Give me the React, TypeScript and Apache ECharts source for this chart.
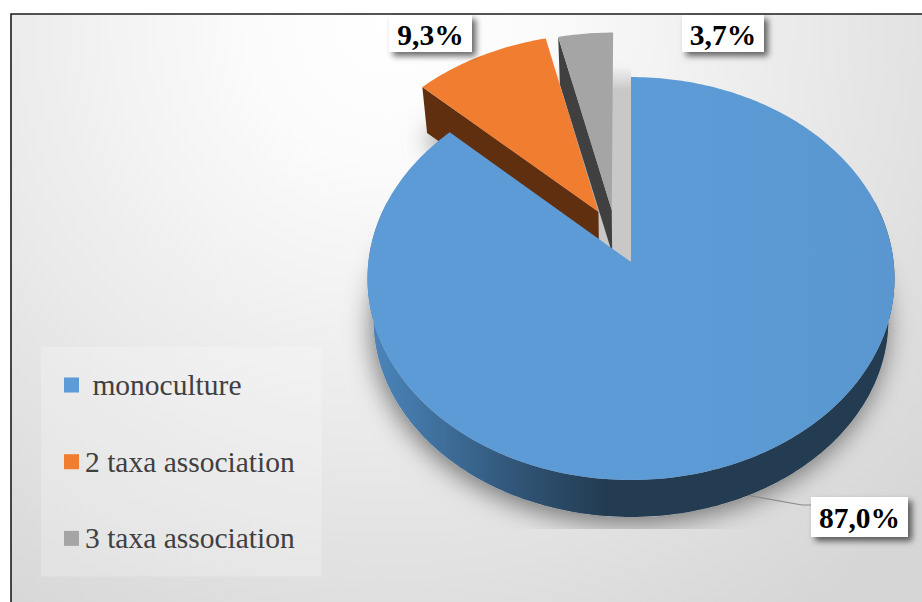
import React, { useEffect, useRef } from "react";
import * as echarts from "echarts";

const categories = ["monoculture", "2 taxa association", "3 taxa association"];
const shares = [87.0, 9.3, 3.7];

const sliceColors = ["#5c9bd6", "#f17e30", "#a5a5a5"];
const wallColors = ["#233c52", "#5f2f10", "#404040"];
const serif = "'Liberation Serif', 'Times New Roman', serif";

// Perspective model of the pie disc: (u, v) lie in the disc plane, v points to the viewer.
const HUB_X = 631;
const HUB_Y = 262;
const HALF_W = 262.6;
const HALF_H = 200.1;
const TILT = 0.0819;
const FLOOR_DROP = 42;
const FLOOR_SCALE = 0.977;
const explode: [number, number][] = [
  [0, 0],
  [-0.127, -0.257],
  [-0.075, -0.2655],
];
const labelBoxes = [
  { x: 811, y: 497, w: 97, h: 40 },
  { x: 389, y: 15, w: 83, h: 37 },
  { x: 682, y: 15, w: 82, h: 37 },
];

type Pt = [number, number];

function project(u: number, v: number, floor: boolean): Pt {
  const d = 1 - TILT * v;
  const X = (HALF_W * u) / d;
  const Y = (HALF_H * v) / d;
  return floor
    ? [HUB_X + FLOOR_SCALE * X, HUB_Y + FLOOR_DROP + FLOOR_SCALE * Y]
    : [HUB_X + X, HUB_Y + Y];
}

function rim(deg: number, off: [number, number], floor: boolean): Pt {
  const t = (deg * Math.PI) / 180;
  return project(Math.sin(t) + off[0], -Math.cos(t) + off[1], floor);
}

function arc(a: number, b: number, off: [number, number], floor: boolean): Pt[] {
  const pts: Pt[] = [];
  const n = Math.max(2, Math.ceil(Math.abs(b - a)));
  for (let i = 0; i <= n; i++) pts.push(rim(a + ((b - a) * i) / n, off, floor));
  return pts;
}

function spanOf(index: number): [number, number] {
  const total = shares.reduce((s, x) => s + x, 0);
  let start = 0;
  for (let i = 0; i < index; i++) start += (shares[i] / total) * 360;
  return [start, start + (shares[index] / total) * 360];
}

function wedge(index: number, floor: boolean): Pt[] {
  const [a, b] = spanOf(index);
  const off = explode[index];
  return [project(off[0], off[1], floor), ...arc(a, b, off, floor)];
}

function valueLabel(index: number, value: number) {
  const box = labelBoxes[index];
  return [
    {
      type: "rect",
      shape: { x: box.x, y: box.y, width: box.w, height: box.h },
      style: {
        fill: "#ffffff",
        shadowBlur: 6,
        shadowColor: "rgba(0,0,0,0.6)",
        shadowOffsetX: 4,
        shadowOffsetY: 4,
      },
    },
    {
      type: "text",
      x: box.x + box.w / 2,
      y: box.y + box.h / 2 + 1,
      style: {
        text: value.toFixed(1).replace(".", ",") + "%",
        fontFamily: serif,
        fontWeight: "bold",
        fontSize: 29.5,
        fill: "#000000",
        align: "center",
        verticalAlign: "middle",
      },
    },
  ];
}

// Pale inner face seen through the gap left by the pulled-out slices.
function innerFace() {
  const tip = project(explode[0][0], explode[0][1], false);
  return {
    type: "polygon",
    shape: {
      points: [
        [tip[0] - 32, tip[1] - 50],
        [tip[0] - 19, tip[1] - 194],
        [tip[0], tip[1] - 194],
        tip,
        [tip[0] - 32, tip[1] - 24],
      ],
    },
    style: {
      fill: new echarts.graphic.LinearGradient(
        0, tip[1] - 194, 0, tip[1] - 172,
        [
          { offset: 0, color: "#f0f0f0" },
          { offset: 1, color: "#c8c8c8" },
        ],
        true
      ),
    },
  };
}

// Blurred contact shadow under the three floor outlines, cut off along the bottom.
function renderShadow(params: any) {
  const i = params.dataIndex;
  const children: any[] = [
    {
      type: "polygon",
      shape: { points: wedge(i, true) },
      style: {
        fill: "#b0b0b0",
        shadowBlur: 26,
        shadowColor: "rgba(0,0,0,0.5)",
        shadowOffsetX: -2,
        shadowOffsetY: 6,
      },
    },
  ];
  if (i === shares.length - 1) children.push(innerFace());
  return {
    type: "group",
    clipPath: { type: "rect", shape: { x: 0, y: 15, width: 922, height: 514 } },
    children,
  };
}

function renderMonoculture(_: any, api: any) {
  const [, b] = spanOf(0);
  const off = explode[0];
  const front = arc(72, Math.min(b, 288), off, false);
  const frontFloor = arc(72, Math.min(b, 288), off, true).reverse();
  const leadStart = rim(155, off, true);
  return {
    type: "group",
    children: [
      {
        type: "polygon",
        shape: { points: [...front, ...frontFloor] },
        style: {
          fill: new echarts.graphic.LinearGradient(
            368, 0, 895, 0,
            [
              { offset: 0, color: "#4c86bd" },
              { offset: 0.12, color: "#40729f" },
              { offset: 0.3, color: "#2f5273" },
              { offset: 0.45, color: "#233c52" },
              { offset: 1, color: "#233c52" },
            ],
            true
          ),
        },
      },
      {
        type: "polygon",
        shape: { points: wedge(0, false) },
        style: {
          fill: new echarts.graphic.LinearGradient(
            368, 0, 895, 0,
            [
              { offset: 0, color: sliceColors[0] },
              { offset: 0.6, color: sliceColors[0] },
              { offset: 1, color: "#5a97d0" },
            ],
            true
          ),
        },
      },
      {
        type: "polyline",
        shape: { points: [leadStart, [802, 505], [811, 505]] },
        style: { stroke: "#8a8a8a", lineWidth: 1.2, fill: "none" },
      },
      ...valueLabel(0, api.value(0)),
    ],
  };
}

function renderPulled(index: number) {
  return (_: any, api: any) => {
    const [a] = spanOf(index);
    const off = explode[index];
    const corner = rim(a, off, false);
    const cornerFloor = rim(a, off, true);
    const tip = project(off[0], off[1], false);
    const tipFloor = project(off[0], off[1], true);
    return {
      type: "group",
      children: [
        {
          type: "polygon",
          shape: { points: [corner, tip, tipFloor, cornerFloor] },
          style: { fill: wallColors[index] },
        },
        {
          type: "polygon",
          shape: { points: wedge(index, false) },
          style: { fill: sliceColors[index] },
        },
        ...valueLabel(index, api.value(0)),
      ],
    };
  };
}

export default function App() {
  const ref = useRef<HTMLDivElement>(null);

  useEffect(() => {
    document.body.style.margin = "0";
    const chart = echarts.init(ref.current!, undefined, { renderer: "svg" });
    chart.setOption({
      animation: false,
      graphic: [
        {
          type: "rect",
          z: -10,
          shape: { x: 11, y: 14, width: 1000, height: 700 },
          style: {
            fill: new echarts.graphic.RadialGradient(
              390, 20, 720,
              [
                { offset: 0, color: "#ffffff" },
                { offset: 0.2, color: "#fbfbfb" },
                { offset: 0.55, color: "#ebebeb" },
                { offset: 1, color: "#d6d6d6" },
              ],
              true
            ),
            stroke: "#1c1c1c",
            lineWidth: 1.6,
          },
        },
      ],
      legend: {
        left: 41,
        top: 347,
        orient: "vertical",
        data: categories,
        icon: "rect",
        itemWidth: 15,
        itemHeight: 15,
        itemGap: 46.7,
        padding: [23, 27, 23, 23],
        backgroundColor: "rgba(255,255,255,0.22)",
        selectedMode: false,
        textStyle: {
          fontFamily: serif,
          fontSize: 29.5,
          color: "#404040",
          padding: [0, 0, 0, 1],
        },
        formatter: (name: string) => (name === categories[0] ? "\u00a0" + name : name),
      },
      series: [
        {
          type: "custom",
          name: "floor shadow",
          coordinateSystem: "none",
          z: 1,
          data: shares.map((v) => [v]),
          renderItem: renderShadow,
        },
        {
          type: "custom",
          name: categories[2],
          coordinateSystem: "none",
          z: 2,
          itemStyle: { color: sliceColors[2] },
          data: [[shares[2]]],
          renderItem: renderPulled(2),
        },
        {
          type: "custom",
          name: categories[1],
          coordinateSystem: "none",
          z: 2,
          itemStyle: { color: sliceColors[1] },
          data: [[shares[1]]],
          renderItem: renderPulled(1),
        },
        {
          type: "custom",
          name: categories[0],
          coordinateSystem: "none",
          z: 3,
          itemStyle: { color: sliceColors[0] },
          data: [[shares[0]]],
          renderItem: renderMonoculture,
        },
      ],
    });
    return () => chart.dispose();
  }, []);

  return (
    <div
      ref={ref}
      style={{ position: "fixed", left: 0, top: 0, width: 922, height: 602, background: "#fff" }}
    />
  );
}
